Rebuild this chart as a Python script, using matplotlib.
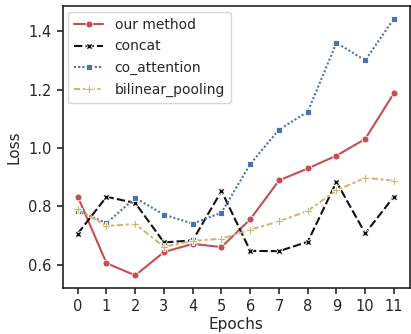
import matplotlib
matplotlib.use("Agg")
import matplotlib.pyplot as plt
import seaborn as sns

epochs = list(range(12))
our_method = [0.834, 0.606, 0.564, 0.644, 0.672, 0.661, 0.756, 0.889, 0.930, 0.974, 1.031, 1.188]
concat = [0.707, 0.833, 0.812, 0.677, 0.684, 0.853, 0.648, 0.647, 0.679, 0.884, 0.708, 0.834]
co_attention = [0.785, 0.743, 0.829, 0.772, 0.741, 0.779, 0.945, 1.063, 1.124, 1.360, 1.300, 1.443]
bilinear_pooling = [0.791, 0.733, 0.740, 0.662, 0.682, 0.690, 0.720, 0.749, 0.785, 0.855, 0.898, 0.888]

sns.set_theme(style="ticks")
plt.rcParams['font.family'] = ['DejaVu Sans']

fig = plt.figure(figsize=(4.11, 3.34), dpi=100)
ax = fig.add_axes([62.5/411, 1 - 287.7/334, (409.5 - 62.5)/411, (287.7 - 6)/334])

common = dict(lw=1.5, mec="white", mew=0.6)
ax.plot(epochs, our_method, color="#C44E52", marker="o", ms=5, label="our method", **common)
ax.plot(epochs, concat, color="#111111", marker="X", ms=5, dashes=(4, 1.5), label="concat", **common)
ax.plot(epochs, co_attention, color="#4C72B0", marker="s", ms=4, dashes=(1, 1), label="co_attention", **common)
ax.plot(epochs, bilinear_pooling, color="#CCB974", marker="P", ms=5.5, dashes=(3, 1.25, 1.5, 1.25), label="bilinear_pooling", **common)

ax.set_xticks(epochs)
ax.set_yticks([0.6, 0.8, 1.0, 1.2, 1.4])
ax.set_xlim(-0.53, 11.54)
ax.set_ylim(0.522, 1.486)
ax.tick_params(labelsize=10.5, length=4.5, width=1.2, pad=3.5)
for s in ax.spines.values():
    s.set_linewidth(1.2)
    s.set_color("#222222")
ax.set_xlabel("Epochs", fontsize=11, labelpad=2)
ax.set_ylabel("Loss", fontsize=11, labelpad=5)
ax.legend(loc="upper left", fontsize=10, handlelength=2.1, borderpad=0.45,
          labelspacing=0.55, bbox_to_anchor=(0.0, 1.0), borderaxespad=0.4)

fig.savefig("out.png", dpi=100)
